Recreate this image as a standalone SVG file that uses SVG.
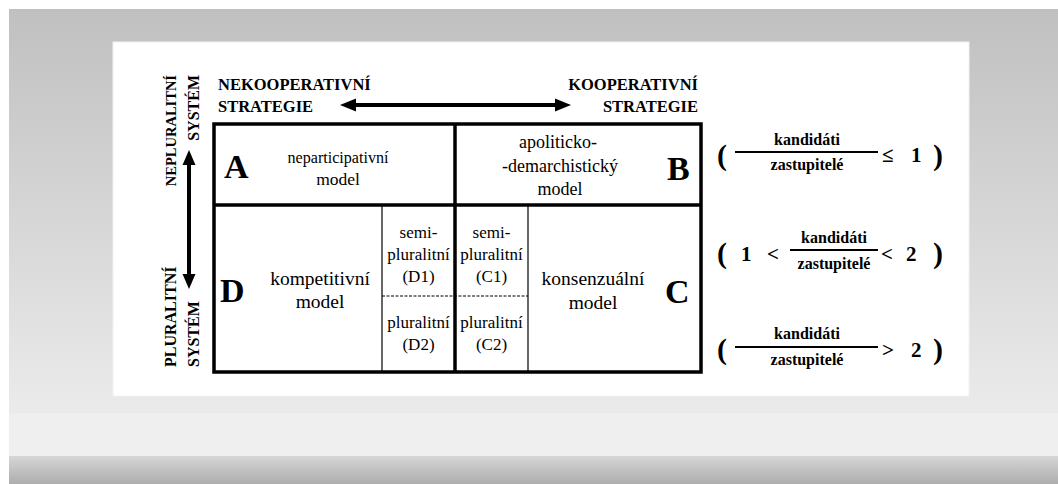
<svg xmlns="http://www.w3.org/2000/svg" width="1058" height="484" viewBox="0 0 1058 484">
<defs>
<linearGradient id="bg" x1="0" y1="9" x2="0" y2="405" gradientUnits="userSpaceOnUse">
<stop offset="0" stop-color="#c0c0c0"/><stop offset="1" stop-color="#eaeaea"/>
</linearGradient>
<linearGradient id="bot" x1="0" y1="456" x2="0" y2="484" gradientUnits="userSpaceOnUse">
<stop offset="0" stop-color="#d6d6d6"/><stop offset="1" stop-color="#adadad"/>
</linearGradient>
<style>
.r{font-family:"Liberation Serif","Times New Roman",serif;font-size:18px;fill:#000;text-anchor:middle}
.ra{font-size:17.5px}
.rl{font-size:19.5px}
.s{font-family:"Liberation Serif","Times New Roman",serif;font-size:17px;fill:#000;text-anchor:middle}
.b{font-family:"Liberation Serif","Times New Roman",serif;font-weight:bold;font-size:16.5px;fill:#000}
.v{font-family:"Liberation Serif","Times New Roman",serif;font-weight:bold;font-size:16px;fill:#000}
.big{font-family:"Liberation Serif","Times New Roman",serif;font-weight:bold;font-size:34px;fill:#000}
.f{font-family:"Liberation Serif","Times New Roman",serif;font-weight:bold;font-size:16px;fill:#000;text-anchor:middle}
.m{font-family:"Liberation Serif","Times New Roman",serif;font-weight:bold;font-size:21px;fill:#000}
.p{font-family:"Liberation Serif","Times New Roman",serif;font-weight:bold;font-size:30px;fill:#000}
.thick{stroke:#000;stroke-width:3.5;fill:none}
.thin{stroke:#000;stroke-width:1.2;fill:none}
.dash{stroke:#000;stroke-width:1;stroke-dasharray:3 1.5;fill:none}
.shaft{stroke:#000;stroke-width:4;fill:none}
.fl{stroke:#000;stroke-width:1.8}
</style>
</defs>
<rect width="1058" height="484" fill="#fff"/>
<rect x="9" y="9" width="1049" height="404" fill="url(#bg)"/>
<rect x="9" y="405" width="1049" height="8" fill="#eaeaea"/>
<rect x="9" y="413" width="1049" height="43" fill="#efefef"/>
<rect x="9" y="456" width="1049" height="28" fill="url(#bot)"/>
<rect x="113" y="42" width="856" height="354" fill="#fff" stroke="#f2f2f2" stroke-width="1"/>

<g id="axis-labels">
<text class="b" x="218" y="90">NEKOOPERATIVNÍ</text>
<text class="b" x="218" y="111.5">STRATEGIE</text>
<text class="b" x="698" y="90" text-anchor="end">KOOPERATIVNÍ</text>
<text class="b" x="698" y="111.5" text-anchor="end">STRATEGIE</text>
<text class="v" transform="translate(176,75) rotate(-90)" text-anchor="end" style="font-size:14.5px">NEPLURALITNÍ</text>
<text class="v" transform="translate(199,75) rotate(-90)" text-anchor="end">SYSTÉM</text>
<text class="v" transform="translate(176,367) rotate(-90)">PLURALITNÍ</text>
<text class="v" transform="translate(199,367) rotate(-90)">SYSTÉM</text>
</g>

<g id="connectors">
<line class="shaft" x1="352" y1="105" x2="559" y2="105"/>
<polygon points="340,105 356,98.5 356,111.5"/>
<polygon points="571,105 555,98.5 555,111.5"/>
<line class="shaft" x1="189" y1="162" x2="189" y2="277"/>
<polygon points="189,150 182.5,165 195.5,165"/>
<polygon points="189,289 182.5,274 195.5,274"/>
</g>

<g id="grid">
<rect class="thick" x="214" y="124" width="487" height="248"/>
<line class="thick" x1="455" y1="124" x2="455" y2="372"/>
<line class="thick" x1="214" y1="205" x2="701" y2="205"/>
<line class="thin" x1="382" y1="205" x2="382" y2="372"/>
<line class="thin" x1="528" y1="205" x2="528" y2="372"/>
<line class="dash" x1="382" y1="296" x2="528" y2="296"/>
</g>

<g id="node-A">
<text class="big" x="224" y="178">A</text>
<text class="r ra" x="338" y="163" textLength="101" lengthAdjust="spacingAndGlyphs">neparticipativní</text>
<text class="r ra" x="338" y="185">model</text>
</g>
<g id="node-B">
<text class="big" x="667" y="180">B</text>
<text class="r" x="558" y="148">apoliticko-</text>
<text class="r" x="560" y="172">-demarchistický</text>
<text class="r" x="560" y="195">model</text>
</g>
<g id="node-D">
<text class="big" x="220" y="302">D</text>
<text class="r rl" x="320" y="285">kompetitivní</text>
<text class="r rl" x="320" y="308">model</text>
</g>
<g id="node-D1">
<text class="s" x="418.5" y="238">semi-</text>
<text class="s" x="418.5" y="260">pluralitní</text>
<text class="s" x="418.5" y="282">(D1)</text>
</g>
<g id="node-D2">
<text class="s" x="418.5" y="328">pluralitní</text>
<text class="s" x="418.5" y="350">(D2)</text>
</g>
<g id="node-C1">
<text class="s" x="491.5" y="238">semi-</text>
<text class="s" x="491.5" y="260">pluralitní</text>
<text class="s" x="491.5" y="282">(C1)</text>
</g>
<g id="node-C2">
<text class="s" x="491.5" y="328">pluralitní</text>
<text class="s" x="491.5" y="350">(C2)</text>
</g>
<g id="node-C">
<text class="big" x="665" y="303">C</text>
<text class="r rl" x="593" y="285">konsenzuální</text>
<text class="r rl" x="593" y="309">model</text>
</g>

<g id="formula-1">
<text class="p" x="717" y="165">(</text>
<text class="f" x="807" y="145">kandidáti</text>
<line class="fl" x1="735" y1="152" x2="878" y2="152"/>
<text class="f" x="807" y="170">zastupitelé</text>
<text class="m" x="882" y="162">≤</text>
<text class="m" x="911" y="162">1</text>
<text class="p" x="933" y="165">)</text>
</g>
<g id="formula-2">
<text class="p" x="717" y="263">(</text>
<text class="m" x="741" y="261">1</text>
<text class="m" x="767" y="261">&lt;</text>
<text class="f" x="834" y="243">kandidáti</text>
<line class="fl" x1="790" y1="250" x2="878" y2="250"/>
<text class="f" x="834" y="269">zastupitelé</text>
<text class="m" x="881" y="261">&lt;</text>
<text class="m" x="906" y="261">2</text>
<text class="p" x="933" y="263">)</text>
</g>
<g id="formula-3">
<text class="p" x="717" y="359">(</text>
<text class="f" x="807" y="339">kandidáti</text>
<line class="fl" x1="735" y1="347" x2="878" y2="347"/>
<text class="f" x="807" y="365">zastupitelé</text>
<text class="m" x="882" y="357">&gt;</text>
<text class="m" x="911" y="357">2</text>
<text class="p" x="933" y="359">)</text>
</g>
</svg>
